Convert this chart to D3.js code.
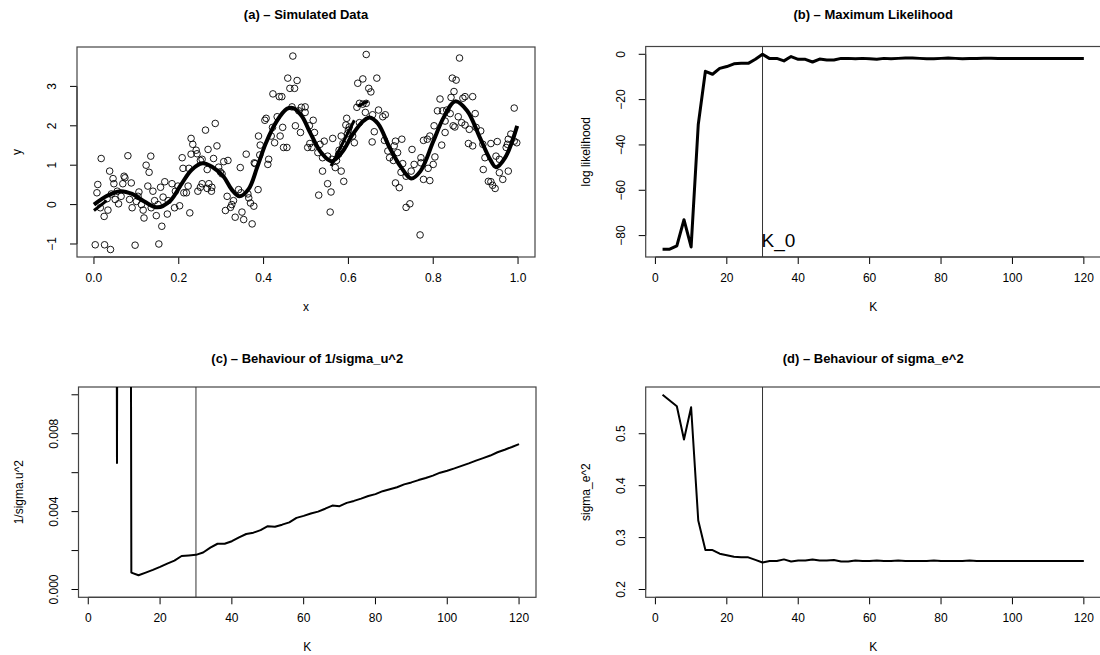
<!DOCTYPE html>
<html><head><meta charset="utf-8">
<script src="https://cdn.jsdelivr.net/npm/d3@7"></script>
<style>
body{margin:0;background:#fff}
text{font-family:"Liberation Sans",Arial,Helvetica,sans-serif;fill:#000}
</style></head>
<body><svg id="chart" width="1100" height="655"></svg>
<script>
// ---------- data ----------
const simX = [0.017,0.080,0.134,0.123,0.130,0.037,0.045,0.071,0.073,0.009,0.047,0.068,0.088,0.007,0.055,0.064,0.050,0.058,0.031,0.015,0.033,0.024,0.084,0.090,0.106,0.112,0.116,0.118,0.127,0.139,0.143,0.135,0.147,0.157,0.167,0.163,0.160,0.151,0.175,0.184,0.173,0.190,0.198,0.192,0.202,0.212,0.222,0.218,0.226,0.208,0.210,0.229,0.233,0.229,0.224,0.003,0.025,0.039,0.097,0.153,0.041,0.100,0.104,
0.469,0.457,0.479,0.462,0.473,0.422,0.437,0.443,0.467,0.489,0.498,0.483,0.498,0.403,0.406,0.432,0.421,0.445,0.388,0.418,0.439,0.426,0.455,0.447,0.392,0.475,0.487,0.286,0.263,0.269,0.290,0.241,0.243,0.255,0.251,0.282,0.306,0.316,0.267,0.294,0.298,0.302,0.345,0.359,0.380,0.391,0.412,0.410,0.378,0.255,0.251,0.271,0.278,0.277,0.245,0.267,0.314,0.329,0.325,0.322,0.310,0.333,0.353,0.349,0.373,0.341,0.347,0.363,0.387,0.369,0.377,0.365,
0.642,0.622,0.634,0.667,0.648,0.653,0.626,0.620,0.634,0.642,0.640,0.657,0.671,0.687,0.681,0.596,0.594,0.602,0.583,0.610,0.614,0.587,0.563,0.661,0.656,0.685,0.711,0.726,0.708,0.693,0.716,0.697,0.706,0.750,0.728,0.724,0.748,0.755,0.771,0.777,0.777,0.736,0.711,0.720,0.745,0.736,0.769,0.508,0.517,0.520,0.509,0.504,0.514,0.533,0.543,0.528,0.539,0.551,0.561,0.577,0.578,0.572,0.569,0.539,0.583,0.589,0.551,0.559,0.530,0.557,0.598,0.600,0.626,
0.862,0.845,0.854,0.849,0.842,0.816,0.870,0.875,0.893,0.810,0.822,0.832,0.840,0.899,0.859,0.828,0.802,0.847,0.875,0.867,0.885,0.901,0.912,0.851,0.828,0.792,0.786,0.820,0.883,0.893,0.917,0.936,0.951,0.922,0.948,0.956,0.972,0.977,0.983,0.991,0.997,0.991,0.975,0.918,0.956,0.977,0.964,0.930,0.936,0.940,0.946,0.804,0.800,0.788,0.792,0.771];
const simY = [1.17,1.24,1.23,1.00,0.82,0.85,0.66,0.72,0.68,0.51,0.53,0.53,0.55,0.30,0.34,0.21,0.13,0.02,0.15,-0.08,-0.14,-0.30,0.13,-0.08,0.32,0.00,-0.14,-0.34,0.47,0.34,0.10,-0.08,-0.28,0.44,0.58,0.19,-0.55,0.00,0.10,0.53,-0.24,-0.08,0.47,0.34,-0.03,0.30,0.47,0.30,-0.21,1.19,0.92,1.68,1.53,1.28,0.92,-1.02,-1.02,-1.14,-1.03,-1.00,0.27,0.08,0.21,
3.77,3.21,3.15,2.95,2.95,2.81,2.74,2.74,2.48,2.47,2.48,2.38,2.34,2.14,2.19,2.23,1.96,1.96,1.74,1.74,1.74,1.57,1.45,1.45,1.51,2.00,1.83,2.06,1.89,1.40,1.49,1.38,1.29,1.15,1.12,1.17,1.09,1.12,0.89,0.95,0.83,0.78,0.94,1.28,1.04,1.26,1.15,1.02,1.06,0.53,0.44,0.53,0.44,0.34,0.34,0.41,0.21,0.10,0.00,-0.07,-0.15,-0.32,-0.38,-0.19,-0.49,0.38,0.30,0.27,0.38,0.04,-0.04,0.17,
3.81,3.08,3.19,3.21,2.95,2.86,2.57,2.47,2.55,2.57,2.34,2.28,2.40,2.28,2.23,2.19,2.02,1.97,1.74,1.74,1.57,1.55,1.68,1.85,1.59,1.63,1.61,1.66,1.49,1.36,1.32,1.19,1.12,1.40,1.04,0.82,0.85,1.02,1.19,1.63,0.64,0.72,0.55,0.43,0.02,-0.07,-0.77,2.00,2.14,1.83,1.55,1.45,1.45,1.53,1.61,1.32,1.19,1.23,1.15,1.28,1.38,1.12,0.94,0.85,0.85,0.59,0.53,0.32,0.24,-0.19,1.80,1.89,2.08,
3.72,3.21,3.16,2.87,2.72,2.68,2.70,2.74,2.74,2.38,2.38,2.40,2.31,2.31,2.23,2.12,2.00,2.00,2.02,2.08,1.91,1.96,1.87,1.97,1.83,1.74,1.66,1.51,1.55,1.49,1.53,1.55,1.60,1.19,1.23,1.15,1.45,1.66,1.79,2.45,1.57,1.61,1.53,0.89,0.81,0.85,0.64,0.59,0.58,0.49,0.41,1.21,1.02,0.92,0.61,1.06];

const fitX = [0.000,0.030,0.062,0.090,0.120,0.150,0.180,0.205,0.230,0.256,0.280,0.305,0.325,0.343,0.365,0.385,0.405,0.430,0.455,0.470,0.490,0.510,0.535,0.560,0.585,0.610,0.635,0.650,0.670,0.697,0.724,0.748,0.770,0.800,0.825,0.852,0.880,0.910,0.934,0.948,0.970,0.998];
const fitY = [0.00,0.22,0.34,0.27,0.07,-0.07,0.10,0.50,0.88,1.05,0.95,0.72,0.38,0.21,0.40,0.95,1.55,2.10,2.43,2.45,2.25,1.82,1.33,1.10,1.33,1.78,2.12,2.21,2.05,1.45,0.95,0.66,0.85,1.60,2.22,2.62,2.38,1.70,1.15,0.95,1.20,2.00];
// small stray segments of the fitted line
const fitExtraX = [[0.000,0.030],[0.559,0.614],[0.622,0.646]];
const fitExtraY = [[-0.15,0.10],[0.98,2.14],[2.50,2.62]];

const kValues = [2,4,6,8,10,12,14,16,18,20,22,24,26,28,30,32,34,36,38,40,42,44,46,48,50,52,54,56,58,60,62,64,66,68,70,72,74,76,78,80,82,84,86,88,90,92,94,96,98,100,102,104,106,108,110,112,114,116,118,120];
const logLik = [-86,-86,-84.5,-73,-85,-31,-7.5,-8.8,-6.2,-5.4,-4.2,-4,-4,-2.2,0,-1.9,-1.8,-2.9,-1,-2.2,-2.2,-3.4,-2.1,-2.5,-2.5,-1.8,-1.8,-2,-1.8,-2,-2.2,-1.8,-2,-1.8,-1.6,-1.6,-1.8,-2,-2,-1.8,-1.6,-1.8,-2,-1.9,-1.8,-1.7,-1.7,-1.8,-1.9,-1.9,-1.8,-1.8,-1.9,-1.9,-1.9,-1.8,-1.8,-1.9,-1.9,-1.9];
const invSigmaU = [0.2,0.2,0.2,0.0065,0.2,0.00087,0.00073,0.00087,0.00101,0.00116,0.00133,0.00148,0.00172,0.00175,0.00178,0.0019,0.00215,0.00235,0.00235,0.00248,0.00268,0.00285,0.00292,0.00305,0.00325,0.00322,0.00333,0.00345,0.00368,0.00378,0.0039,0.004,0.00415,0.00431,0.00428,0.00445,0.00455,0.00467,0.0048,0.0049,0.00505,0.00515,0.00525,0.0054,0.0055,0.00562,0.00573,0.00585,0.006,0.0061,0.00622,0.00635,0.00648,0.00662,0.00675,0.00688,0.00705,0.00718,0.00732,0.00747];
const sigmaE = [0.575,0.564,0.553,0.489,0.551,0.333,0.276,0.276,0.269,0.266,0.263,0.262,0.262,0.257,0.252,0.255,0.255,0.258,0.254,0.256,0.256,0.258,0.256,0.256,0.257,0.254,0.254,0.256,0.255,0.255,0.256,0.255,0.255,0.256,0.255,0.255,0.255,0.255,0.256,0.255,0.255,0.255,0.255,0.256,0.255,0.255,0.255,0.255,0.255,0.255,0.255,0.255,0.255,0.255,0.255,0.255,0.255,0.255,0.255,0.255];
const K0 = 30;

const xTicksA = [0,0.2,0.4,0.6,0.8,1.0], xLabelsA = ["0.0","0.2","0.4","0.6","0.8","1.0"];
const yTicksA = [-1,0,1,2,3], yLabelsA = ["\u22121","0","1","2","3"];
const kTicks = [0,20,40,60,80,100,120], kLabels = ["0","20","40","60","80","100","120"];
const yTicksB = [-80,-60,-40,-20,0], yLabelsB = ["\u221280","\u221260","\u221240","\u221220","0"];
const yTicksC = [0,0.002,0.004,0.006,0.008,0.010], yLabelsC = ["0.000","","0.004","","0.008",""];
const yTicksD = [0.2,0.3,0.4,0.5], yLabelsD = ["0.2","0.3","0.4","0.5"];

const titles = ["(a) \u2013 Simulated Data","(b) \u2013 Maximum Likelihood","(c) \u2013 Behaviour of 1/sigma_u^2","(d) \u2013 Behaviour of sigma_e^2"];

// ---------- layout ----------
const svg = d3.select("#chart");

function panel(id, box, xs, ys, xt, xl, yt, yl, title, xlab, ylab, titleGap){
  const g = svg.append("g");
  g.append("clipPath").attr("id","clip"+id).append("rect")
    .attr("x",box.l).attr("y",box.t).attr("width",box.r-box.l).attr("height",box.b-box.t);
  g.append("text").attr("x",(box.l+box.r)/2).attr("y",box.t-titleGap)
    .attr("text-anchor","middle").style("font-weight","bold").style("font-size","13px").text(title);
  const xa = g.append("g");
  xa.append("line").attr("x1",xs(xt[0])).attr("x2",xs(xt[xt.length-1])).attr("y1",box.b).attr("y2",box.b).attr("stroke","#000");
  xt.forEach((t,i)=>{
    xa.append("line").attr("x1",xs(t)).attr("x2",xs(t)).attr("y1",box.b).attr("y2",box.b+7).attr("stroke","#000");
    xa.append("text").attr("x",xs(t)).attr("y",box.b+25).attr("text-anchor","middle").style("font-size","12px").text(xl[i]);
  });
  const ya = g.append("g");
  ya.append("line").attr("y1",ys(yt[0])).attr("y2",ys(yt[yt.length-1])).attr("x1",box.l).attr("x2",box.l).attr("stroke","#000");
  yt.forEach((t,i)=>{
    ya.append("line").attr("y1",ys(t)).attr("y2",ys(t)).attr("x1",box.l).attr("x2",box.l-7).attr("stroke","#000");
    if(yl[i]) ya.append("text").attr("transform",`translate(${box.l-21},${ys(t)}) rotate(-90)`)
      .attr("text-anchor","middle").style("font-size","12px").text(yl[i]);
  });
  g.append("text").attr("x",(box.l+box.r)/2).attr("y",box.b+54).attr("text-anchor","middle").style("font-size","12px").text(xlab);
  g.append("text").attr("transform",`translate(${box.l-56},${(box.t+box.b)/2}) rotate(-90)`)
    .attr("text-anchor","middle").style("font-size","12px").text(ylab);
  g.append("rect").attr("x",box.l).attr("y",box.t).attr("width",box.r-box.l).attr("height",box.b-box.t)
    .attr("fill","none").attr("stroke","#444").attr("stroke-width",1.2);
  return g.append("g").attr("clip-path",`url(#clip${id})`);
}

// Panel (a)
const boxA = {l:77,r:535,t:47,b:257};
const xA = d3.scaleLinear().domain([-0.04,1.04]).range([boxA.l,boxA.r]);
const yA = d3.scaleLinear().domain([-1.33,4.0]).range([boxA.b,boxA.t]);
const pA = panel("a",boxA,xA,yA,xTicksA,xLabelsA,yTicksA,yLabelsA,titles[0],"x","y",28);
pA.selectAll("circle").data(simX).join("circle")
  .attr("cx",d=>xA(d)).attr("cy",(d,i)=>yA(simY[i])).attr("r",3.3)
  .attr("fill","none").attr("stroke","#000").attr("stroke-width",0.9);
const fitLine = d3.line().x(d=>xA(d[0])).y(d=>yA(d[1]));
pA.append("path").datum(fitX.map((x,i)=>[x,fitY[i]]))
  .attr("d",fitLine.curve(d3.curveCatmullRom))
  .attr("fill","none").attr("stroke","#000").attr("stroke-width",4).attr("stroke-linejoin","round");
fitExtraX.forEach((xs,j)=>{
  pA.append("path").datum(xs.map((x,i)=>[x,fitExtraY[j][i]]))
    .attr("d",d3.line().x(d=>xA(d[0])).y(d=>yA(d[1])))
    .attr("fill","none").attr("stroke","#000").attr("stroke-width",3);
});

// Panel (b)
const boxB = {l:645.7,r:1100.7,t:46.5,b:257};
const xB = d3.scaleLinear().domain([-2.72,124.72]).range([boxB.l,boxB.r]);
const yB = d3.scaleLinear().domain([-89.44,3.44]).range([boxB.b,boxB.t]);
const pB = panel("b",boxB,xB,yB,kTicks,kLabels,yTicksB,yLabelsB,titles[1],"K","log likelihood",28);
pB.append("line").attr("x1",xB(K0)).attr("x2",xB(K0)).attr("y1",boxB.t).attr("y2",boxB.b).attr("stroke","#333").attr("stroke-width",1);
pB.append("path").datum(kValues.map((k,i)=>[k,logLik[i]]))
  .attr("d",d3.line().x(d=>xB(d[0])).y(d=>yB(d[1])))
  .attr("fill","none").attr("stroke","#000").attr("stroke-width",3).attr("stroke-linejoin","round");
pB.append("text").attr("x",xB(K0)-1).attr("y",yB(-82)+7).style("font-size","19px").text("K_0");

// Panel (c)
const boxC = {l:78.5,r:536,t:387,b:597.3};
const xC = d3.scaleLinear().domain([-2.72,124.72]).range([boxC.l,boxC.r]);
const yC = d3.scaleLinear().domain([-0.0004,0.0104]).range([boxC.b,boxC.t]);
const pC = panel("c",boxC,xC,yC,kTicks,kLabels,yTicksC,yLabelsC,titles[2],"K","1/sigma.u^2",24);
pC.append("line").attr("x1",xC(K0)).attr("x2",xC(K0)).attr("y1",boxC.t).attr("y2",boxC.b).attr("stroke","#333").attr("stroke-width",1);
pC.append("path").datum(kValues.map((k,i)=>[k,invSigmaU[i]]))
  .attr("d",d3.line().x(d=>xC(d[0])).y(d=>yC(d[1])))
  .attr("fill","none").attr("stroke","#000").attr("stroke-width",2).attr("stroke-linejoin","round");

// Panel (d)
const boxD = {l:645.7,r:1100.7,t:387,b:597.3};
const xD = d3.scaleLinear().domain([-2.72,124.72]).range([boxD.l,boxD.r]);
const yD = d3.scaleLinear().domain([0.185,0.59]).range([boxD.b,boxD.t]);
const pD = panel("d",boxD,xD,yD,kTicks,kLabels,yTicksD,yLabelsD,titles[3],"K","sigma_e^2",24);
pD.append("line").attr("x1",xD(K0)).attr("x2",xD(K0)).attr("y1",boxD.t).attr("y2",boxD.b).attr("stroke","#333").attr("stroke-width",1);
pD.append("path").datum(kValues.map((k,i)=>[k,sigmaE[i]]))
  .attr("d",d3.line().x(d=>xD(d[0])).y(d=>yD(d[1])))
  .attr("fill","none").attr("stroke","#000").attr("stroke-width",2).attr("stroke-linejoin","round");
</script></body></html>
